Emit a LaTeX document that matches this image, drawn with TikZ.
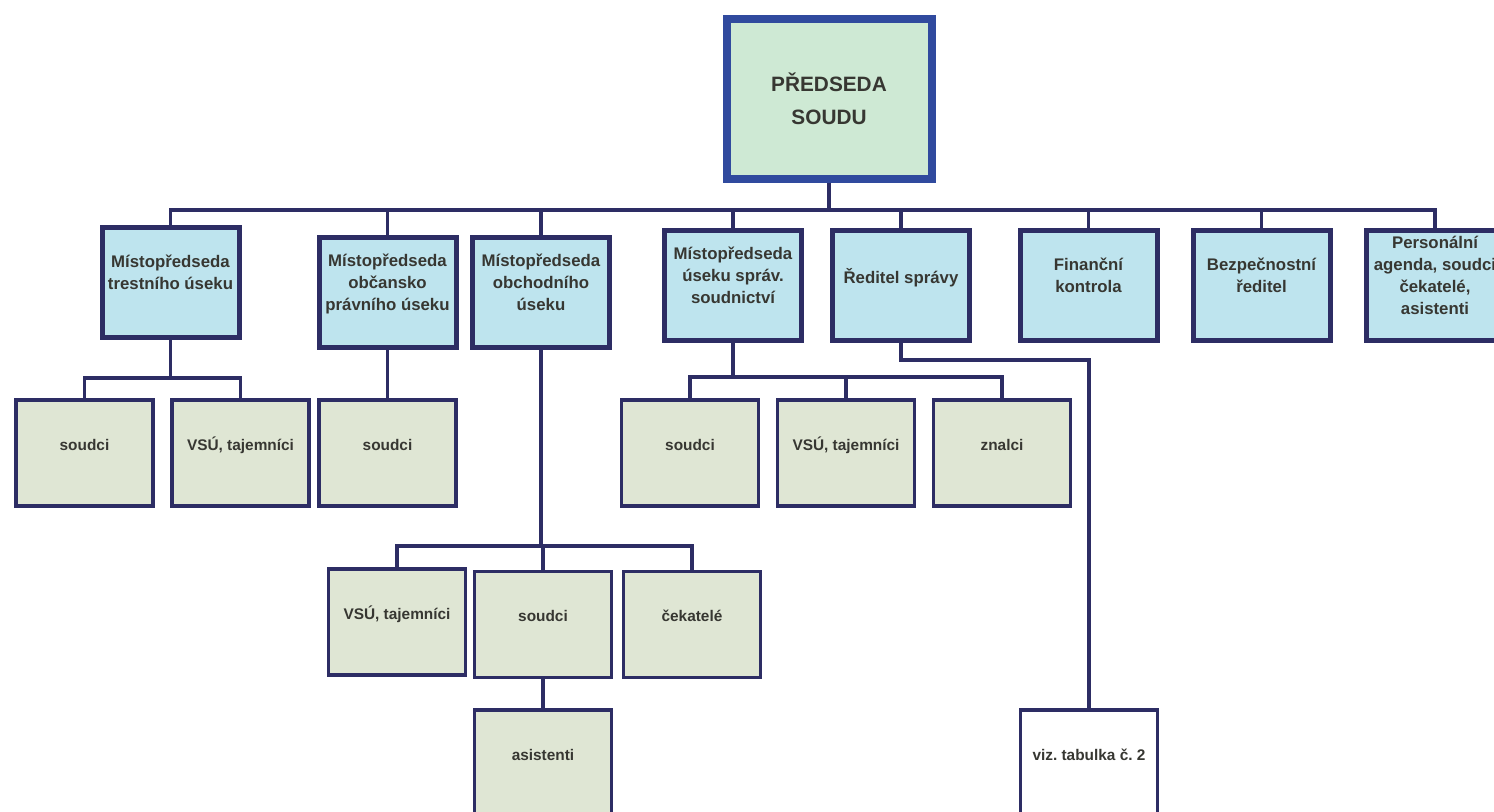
\documentclass[tikz,border=0pt]{standalone}
\usepackage{fontspec}
\setmainfont{Liberation Sans}
\usetikzlibrary{positioning}
\frenchspacing

\definecolor{navy}{RGB}{45,45,100}
\definecolor{chairblue}{RGB}{48,74,158}
\definecolor{chairfill}{RGB}{206,233,212}
\definecolor{deputyfill}{RGB}{190,228,238}
\definecolor{stafffill}{RGB}{223,230,212}
\definecolor{textgray}{RGB}{55,55,50}

\tikzset{
  chief/.style={draw=chairblue, fill=chairfill, line width=4pt, minimum width=102.5pt,
    minimum height=80pt, align=center, text=textgray, font=\fontsize{10.4}{16.5}\selectfont\bfseries},
  deputy/.style={draw=navy, fill=deputyfill, line width=2.5pt, minimum width=68.5pt,
    minimum height=55pt, inner sep=0.5pt, align=center, text=textgray, font=\fontsize{8.4}{11}\selectfont\bfseries},
  staff/.style={draw=navy, fill=stafffill, line width=1.8pt, minimum width=68.5pt,
    minimum height=53pt, text height=7pt, text depth=10pt, text=textgray, font=\fontsize{7.7}{10}\selectfont\bfseries},
  link/.style={draw=navy, line width=1.7pt}
}

\begin{document}
\begin{tikzpicture}[x=0.5pt,y=-0.5pt]
                \useasboundingbox (0,0) rectangle (1494,811);
                \clip (0,0) rectangle (1494,811);

                \node[chief] (chair) at (829,98.5) {PŘEDSEDA\\SOUDU};

                \node[deputy] (trest) at (170.5,282.5) {Místopředseda\\trestního úseku\\[-1pt]};
                \node[deputy] (obc) at (387.5,292.5) {Místopředseda\\občansko\\právního úseku\\[-1pt]};
                \node[deputy] (obch) at (541,292) {Místopředseda\\obchodního\\úseku\\[-1pt]};
                \node[deputy] (sprav) at (733,285.5) {Místopředseda\\úseku správ.\\soudnictví\\[-1pt]};
                \node[deputy] (reditel) at (901,285.5) {Ředitel správy\\[-1pt]};
                \node[deputy] (fin) at (1088.5,285.5) {Finanční\\kontrola\\[-1pt]};
                \node[deputy] (bezp) at (1261.5,285.5) {Bezpečnostní\\ředitel\\[-1pt]};
                \node[deputy] (pers) at (1435,285.5) {Personální\\agenda, soudci\\čekatelé,\\asistenti\\[-1pt]};

                \node[staff] (tsoud) at (84.5,453) {soudci};
                \node[staff] (tvsu) at (240.5,453) {VSÚ, tajemníci};
                \node[staff] (osoud) at (387.5,453) {soudci};
                \node[staff] (ssoud) at (690,453) {soudci};
                \node[staff] (svsu) at (846,453) {VSÚ, tajemníci};
                \node[staff] (znalci) at (1002,453) {znalci};
                \node[staff] (hvsu) at (397,622) {VSÚ, tajemníci};
                \node[staff] (hsoud) at (543,624.5) {soudci};
                \node[staff] (hcek) at (692,624.5) {čekatelé};
                \node[staff] (hasist) at (543,763) {asistenti};
                \node[staff, fill=white] (viz) at (1089,763) {viz. tabulka č. 2};

                \coordinate (bus) at (829,210);
                \coordinate (tj) at (170.5,378);
                \coordinate (hj) at (542,546);
                \coordinate (sj) at (733,377);
                \coordinate (rj) at (1089,360);

                \draw[link] (chair.south) -- (bus);
                \foreach \n in {trest,obc,obch,sprav,reditel,fin,bezp,pers}
                    \draw[link] (bus) -| (\n.north);

                \draw[link] (trest.south) -- (tj);
                \draw[link] (tsoud.north) |- (tj) -| (tvsu.north);
                \draw[link] (obc.south) -- (osoud.north);
                \draw[link] (obch.south) |- (hj);
                \draw[link] (hvsu.north) |- (hj) -| (hcek.north);
                \draw[link] (hsoud.north) |- (hj);
                \draw[link] (hsoud.south) -- (hasist.north);
                \draw[link] (sprav.south) -- (sj);
                \draw[link] (ssoud.north) |- (sj) -| (znalci.north);
                \draw[link] (svsu.north) |- (sj);
                \draw[link] (reditel.south) |- (rj) -- (viz.north);
            \end{tikzpicture}
\end{document}
